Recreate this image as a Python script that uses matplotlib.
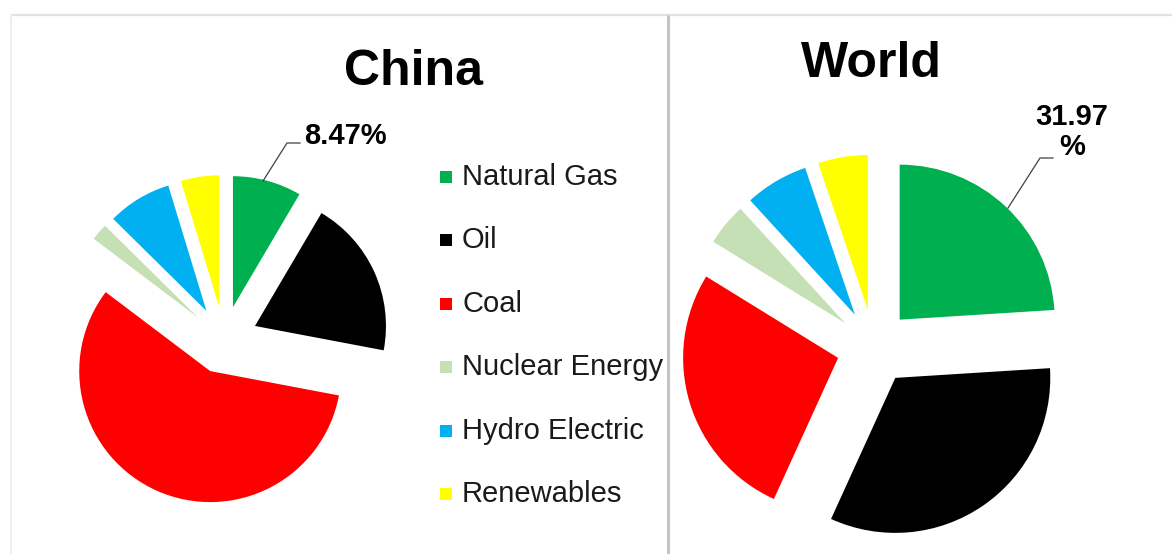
import matplotlib

matplotlib.use("Agg")
import matplotlib.pyplot as plt  # noqa: E402
from matplotlib.patches import Rectangle  # noqa: E402

W, H = 1172, 554

sources = ["Natural Gas", "Oil", "Coal", "Nuclear Energy", "Hydro Electric", "Renewables"]
colors = ["#00B050", "#000000", "#FF0000", "#C5E0B4", "#00B0F0", "#FFFF00"]

# shares (%)
china_share = [8.47, 19.5, 57.3, 2.1, 7.9, 4.7]
world_share = [24.0, 32.8, 27.0, 4.4, 6.6, 5.2]

china_label = "8.47%"
world_label = "31.97\n%"


def py(y):
    # pixel row (from top) -> data y
    return H - y


plt.rcParams["font.family"] = ["Liberation Sans", "DejaVu Sans"]

fig = plt.figure(figsize=(W / 100, H / 100), dpi=100)
ax = fig.add_axes([0, 0, 1, 1])

ax.pie(china_share, colors=colors, startangle=90, counterclock=False,
       explode=[34] * len(china_share), center=(224, py(340)), radius=131,
       wedgeprops=dict(linewidth=0))
ax.pie(world_share, colors=colors, startangle=90, counterclock=False,
       explode=[37.5] * len(world_share), center=(874, py(347)), radius=155,
       wedgeprops=dict(linewidth=0))

ax.set_xlim(0, W)
ax.set_ylim(0, H)
ax.set_aspect("auto")
ax.axis("off")

# panel borders
ax.plot([11, W], [py(15), py(15)], color="#e2e2e2", lw=1.6, solid_capstyle="butt")
ax.plot([11, 11], [py(15), 0], color="#efefef", lw=1.6, solid_capstyle="butt")
ax.plot([668, 668], [py(15), 0], color="#c4c4c4", lw=2.2, solid_capstyle="butt")

# titles
ax.text(413, py(72), "China", fontsize=36, fontweight="bold", ha="center", va="center")
ax.text(871, py(64), "World", fontsize=36, fontweight="bold", ha="center", va="center")

# data labels with leader lines
ax.plot([300, 287, 263], [py(143), py(143), py(181)], color="#404040", lw=0.9)
ax.text(304, py(136), china_label, fontsize=21, fontweight="bold", ha="left", va="center")
ax.plot([1053, 1040, 1008], [py(158), py(158), py(208)], color="#404040", lw=0.9)
ax.text(1072, py(132), world_label, fontsize=21, fontweight="bold", ha="center",
        va="center", linespacing=1.12)

# legend
for i, (name, c) in enumerate(zip(sources, colors)):
    yc = 177 + i * 63.4
    ax.add_patch(Rectangle((440, py(yc) - 6), 12, 12, color=c, lw=0))
    ax.text(462, py(yc), name, fontsize=21, ha="left", va="center", color="#1a1a1a")

fig.savefig("out.png", dpi=100)
